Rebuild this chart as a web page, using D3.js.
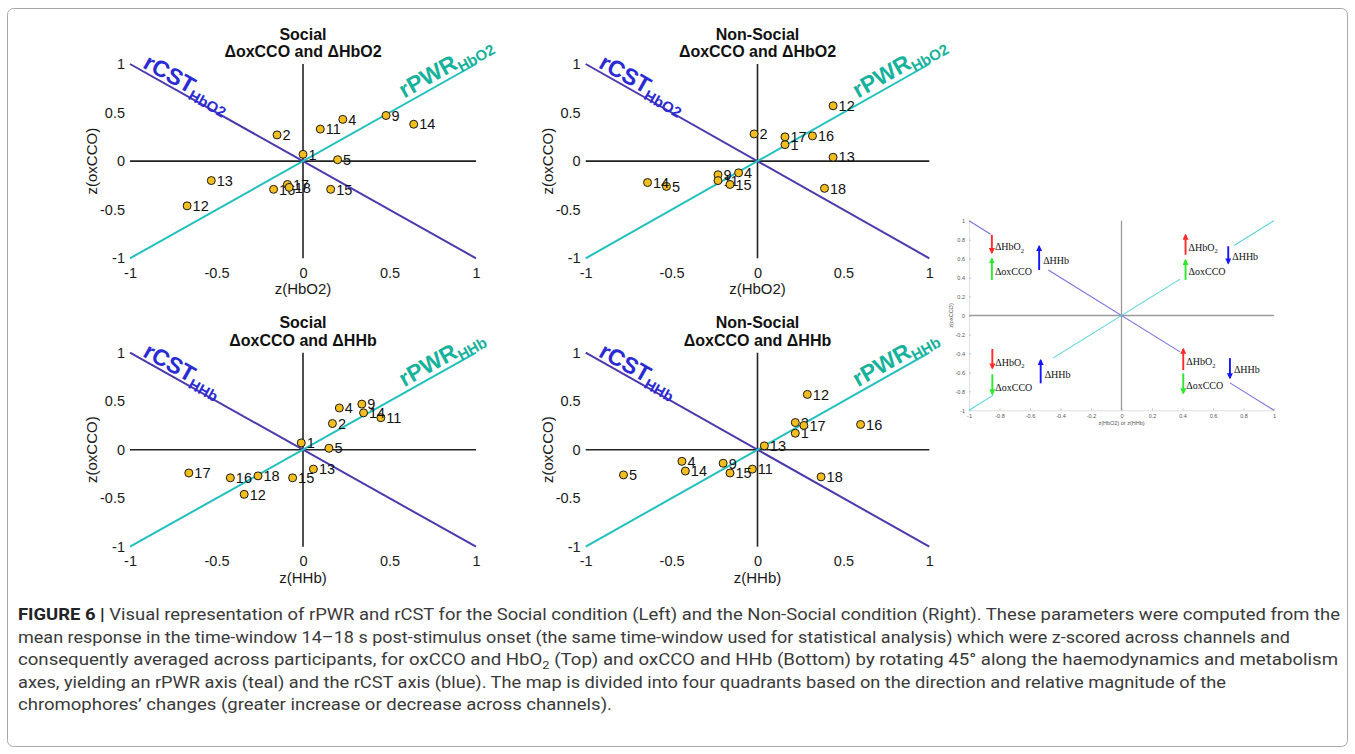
<!DOCTYPE html>
<html><head><meta charset="utf-8">
<script src="https://cdn.jsdelivr.net/npm/d3@7"></script>
<style>body{margin:0;background:#fff}</style>
</head><body>
<svg id="fig" width="1355" height="754"></svg>
<script>
// ---------------- data ----------------
const channels = [1, 2, 4, 5, 9, 11, 12, 13, 14, 15, 16, 17, 18];
const socialOxCCO    = [0.07, 0.27, 0.43, 0.015, 0.47, 0.33, -0.46, -0.20, 0.38, -0.29, -0.29, -0.24, -0.27];
const socialHbO2     = [0.00, -0.15, 0.23, 0.20, 0.48, 0.10, -0.67, -0.53, 0.64, 0.16, -0.17, -0.09, -0.08];
const socialHHb      = [-0.01, 0.17, 0.21, 0.15, 0.34, 0.45, -0.34, 0.06, 0.35, -0.06, -0.42, -0.66, -0.26];
const nonSocialOxCCO = [0.17, 0.28, -0.12, -0.26, -0.14, -0.20, 0.57, 0.04, -0.22, -0.24, 0.26, 0.25, -0.28];
const nonSocialHbO2  = [0.16, -0.02, -0.11, -0.53, -0.23, -0.23, 0.44, 0.44, -0.64, -0.16, 0.32, 0.16, 0.39];
const nonSocialHHb   = [0.22, 0.22, -0.44, -0.78, -0.20, -0.03, 0.29, 0.04, -0.42, -0.16, 0.60, 0.27, 0.37];

const axisTicks = [-1, -0.5, 0, 0.5, 1];
const axisTickLabels = ["-1", "-0.5", "0", "0.5", "1"];

const panelTitles = ["Social", "Non-Social", "Social", "Non-Social"];
const panelChromophores = ["HbO2", "HbO2", "HHb", "HHb"];
const panelXLabels = ["z(HbO2)", "z(HbO2)", "z(HHb)", "z(HHb)"];
const panelYLabel = "z(oxCCO)";

// inset (schematic map)
const insetTicks = [-1, -0.8, -0.6, -0.4, -0.2, 0, 0.2, 0.4, 0.6, 0.8, 1];
const insetTickLabels = ["-1", "-0.8", "-0.6", "-0.4", "-0.2", "0", "0.2", "0.4", "0.6", "0.8", "1"];
const insetCSTSegments = [[-1, -0.858], [-0.48, 0.384], [0.711, 1]];
const insetPWRSegments = [[-1, -0.84], [-0.447, 0.384], [0.738, 1]];
const insetArrowX    = [-0.85, -0.85, -0.54, 0.42, 0.42, 0.70, -0.847, -0.847, -0.53, 0.405, 0.405, 0.711];
const insetArrowFrom = [0.85, 0.375, 0.48, 0.64, 0.375, 0.73, -0.353, -0.62, -0.715, -0.575, -0.61, -0.45];
const insetArrowTo   = [0.66, 0.60, 0.73, 0.85, 0.585, 0.55, -0.557, -0.83, -0.47, -0.353, -0.82, -0.66];
const insetArrowKind = ["HbO", "ox", "HHb", "HbO", "ox", "HHb", "HbO", "ox", "HHb", "HbO", "ox", "HHb"];
const insetLabelY    = [0.726, 0.462, 0.578, 0.719, 0.462, 0.62, -0.494, -0.757, -0.62, -0.487, -0.74, -0.567];

const captionLines = [
  "Visual representation of rPWR and rCST for the Social condition (Left) and the Non-Social condition (Right). These parameters were computed from the",
  "mean response in the time-window 14\u201318 s post-stimulus onset (the same time-window used for statistical analysis) which were z-scored across channels and",
  "consequently averaged across participants, for oxCCO and HbO|2| (Top) and oxCCO and HHb (Bottom) by rotating 45\u00b0 along the haemodynamics and metabolism",
  "axes, yielding an rPWR axis (teal) and the rCST axis (blue). The map is divided into four quadrants based on the direction and relative magnitude of the",
  "chromophores\u2019 changes (greater increase or decrease across channels)."
];

// ---------------- drawing ----------------
const svg = d3.select("#fig");
const SANS = "'Liberation Sans', Arial, Helvetica, sans-serif";
const SERIF = "'Liberation Serif', 'Times New Roman', serif";
const CST_LINE = "#4a3aae", CST_TEXT = "#2b2bd4";
const PWR_LINE = "#21c0bd", PWR_TEXT = "#17b29c";

svg.append("rect").attr("x", 7.5).attr("y", 8.5).attr("width", 1340).attr("height", 738)
  .attr("rx", 6).attr("fill", "none").attr("stroke", "#a8a8a8").attr("stroke-width", 1);

const layouts = [
  {left: 130, right: 476, top: 64, bottom: 258.3},
  {left: 585.7, right: 929.3, top: 64, bottom: 258.3},
  {left: 130, right: 476, top: 352.7, bottom: 546.7},
  {left: 585.7, right: 929.3, top: 352.7, bottom: 546.7}
];
const panelX = [socialHbO2, nonSocialHbO2, socialHHb, nonSocialHHb];
const panelY = [socialOxCCO, nonSocialOxCCO, socialOxCCO, nonSocialOxCCO];

layouts.forEach((L, i) => {
  const g = svg.append("g");
  const x = d3.scaleLinear().domain([-1, 1]).range([L.left, L.right]);
  const y = d3.scaleLinear().domain([-1, 1]).range([L.bottom, L.top]);
  const cx = (L.left + L.right) / 2;

  // titles
  g.append("text").attr("x", cx).attr("y", L.top - 24.4).attr("text-anchor", "middle")
    .attr("font-family", SANS).attr("font-weight", "bold").attr("font-size", 16).attr("fill", "#111")
    .text(panelTitles[i]);
  g.append("text").attr("x", cx).attr("y", L.top - 6.8).attr("text-anchor", "middle")
    .attr("font-family", SANS).attr("font-weight", "bold").attr("font-size", 16).attr("fill", "#111")
    .text("\u0394oxCCO and \u0394" + panelChromophores[i]);

  // axes (tick labels only)
  const xAxis = d3.axisBottom(x).tickValues(axisTicks).tickFormat((d, k) => axisTickLabels[k]).tickSize(0).tickPadding(9);
  const yAxis = d3.axisLeft(y).tickValues(axisTicks).tickFormat((d, k) => axisTickLabels[k]).tickSize(0).tickPadding(5);
  const gx = g.append("g").attr("transform", `translate(0,${L.bottom})`).call(xAxis);
  const gy = g.append("g").attr("transform", `translate(${L.left},0)`).call(yAxis);
  [gx, gy].forEach(a => {
    a.select(".domain").remove();
    a.selectAll("text").attr("font-family", SANS).attr("font-size", 14.5).attr("fill", "#1a1a1a");
  });

  // axis labels
  g.append("text").attr("x", cx).attr("y", L.bottom + 36).attr("text-anchor", "middle")
    .attr("font-family", SANS).attr("font-size", 15).attr("fill", "#1a1a1a").text(panelXLabels[i]);
  g.append("text").attr("transform", `translate(${L.left - 33},${(L.top + L.bottom) / 2}) rotate(-90)`)
    .attr("text-anchor", "middle").attr("font-family", SANS).attr("font-size", 15).attr("fill", "#1a1a1a")
    .text(panelYLabel);

  // zero cross lines
  g.append("line").attr("x1", x(-1)).attr("x2", x(1)).attr("y1", y(0)).attr("y2", y(0))
    .attr("stroke", "#222").attr("stroke-width", 1.6);
  g.append("line").attr("x1", x(0)).attr("x2", x(0)).attr("y1", y(-1)).attr("y2", y(1))
    .attr("stroke", "#222").attr("stroke-width", 1.6);

  // diagonals
  g.append("line").attr("x1", x(-1)).attr("y1", y(1)).attr("x2", x(1)).attr("y2", y(-1))
    .attr("stroke", CST_LINE).attr("stroke-width", 2);
  g.append("line").attr("x1", x(-1)).attr("y1", y(-1)).attr("x2", x(1)).attr("y2", y(1))
    .attr("stroke", PWR_LINE).attr("stroke-width", 2);

  const ang = Math.atan((L.bottom - L.top) / (L.right - L.left)) * 180 / Math.PI;
  const sub = panelChromophores[i];
  // rCST label
  const t1 = g.append("text")
    .attr("transform", `translate(${x(-0.94)},${y(0.94)}) rotate(${ang})`)
    .attr("y", -3).attr("font-family", SANS).attr("font-weight", "bold").attr("fill", CST_TEXT);
  t1.append("tspan").attr("font-size", 23).text("rCST");
  t1.append("tspan").attr("font-size", 15).attr("dy", 5).text(sub);
  // rPWR label
  const t2 = g.append("text")
    .attr("transform", `translate(${x(0.6)},${y(0.6)}) rotate(${-ang})`)
    .attr("y", -5).attr("font-family", SANS).attr("font-weight", "bold").attr("fill", PWR_TEXT);
  t2.append("tspan").attr("font-size", 23).text("rPWR");
  t2.append("tspan").attr("font-size", 15).attr("dy", 5).text(sub);

  // points + labels
  channels.forEach((ch, k) => {
    const px = x(panelX[i][k]), py = y(panelY[i][k]);
    g.append("circle").attr("cx", px).attr("cy", py).attr("r", 4)
      .attr("fill", "#f2bd1f").attr("stroke", "#1a1a1a").attr("stroke-width", 1);
    g.append("text").attr("x", px + 5.5).attr("y", py).attr("dy", "0.36em")
      .attr("font-family", SANS).attr("font-size", 14.5).attr("fill", "#111").text(ch);
  });
});

// ---------------- inset ----------------
(function () {
  const L = {left: 969, right: 1274, top: 220.7, bottom: 410.3};
  const g = svg.append("g");
  const x = d3.scaleLinear().domain([-1, 1]).range([L.left, L.right]);
  const y = d3.scaleLinear().domain([-1, 1]).range([L.bottom, L.top]);

  const xAxis = d3.axisBottom(x).tickValues(insetTicks).tickFormat((d, k) => insetTickLabels[k]).tickSizeInner(-2).tickSizeOuter(0).tickPadding(4);
  const yAxis = d3.axisLeft(y).tickValues(insetTicks).tickFormat((d, k) => insetTickLabels[k]).tickSizeInner(-2).tickSizeOuter(0).tickPadding(4);
  const gx = g.append("g").attr("transform", `translate(0,${L.bottom})`).call(xAxis);
  const gy = g.append("g").attr("transform", `translate(${L.left},0)`).call(yAxis);
  [gx, gy].forEach(a => {
    a.select(".domain").attr("stroke", "#d8d8d8").attr("stroke-width", 0.8);
    a.selectAll(".tick line").attr("stroke", "#aaa").attr("stroke-width", 0.6);
    a.selectAll("text").attr("font-family", SANS).attr("font-size", 5.5).attr("fill", "#555");
  });
  g.append("text").attr("x", (L.left + L.right) / 2).attr("y", L.bottom + 15).attr("text-anchor", "middle")
    .attr("font-family", SANS).attr("font-size", 5.5).attr("fill", "#555").text("z(HbO2) or z(HHb)");
  g.append("text").attr("transform", `translate(${L.left - 16},${(L.top + L.bottom) / 2}) rotate(-90)`)
    .attr("text-anchor", "middle").attr("font-family", SANS).attr("font-size", 5.5).attr("fill", "#555").text("z(oxCCO)");

  g.append("line").attr("x1", x(-1)).attr("x2", x(1)).attr("y1", y(0)).attr("y2", y(0))
    .attr("stroke", "#9a9a9a").attr("stroke-width", 1.3);
  g.append("line").attr("x1", x(0)).attr("x2", x(0)).attr("y1", y(-1)).attr("y2", y(1))
    .attr("stroke", "#9a9a9a").attr("stroke-width", 1.3);

  insetCSTSegments.forEach(s => {
    g.append("line").attr("x1", x(s[0])).attr("y1", y(-s[0])).attr("x2", x(s[1])).attr("y2", y(-s[1]))
      .attr("stroke", "#7a6fdc").attr("stroke-width", 1.1);
  });
  insetPWRSegments.forEach(s => {
    g.append("line").attr("x1", x(s[0])).attr("y1", y(s[0])).attr("x2", x(s[1])).attr("y2", y(s[1]))
      .attr("stroke", "#5ad4d8").attr("stroke-width", 1.1);
  });

  const colors = {HbO: "#ff2a2a", ox: "#2ee82e", HHb: "#1414ff"};
  const defs = svg.append("defs");
  Object.keys(colors).forEach(k => {
    defs.append("marker").attr("id", "ah-" + k).attr("viewBox", "0 0 10 10").attr("refX", 8).attr("refY", 5)
      .attr("markerWidth", 3.2).attr("markerHeight", 3.2).attr("orient", "auto")
      .append("path").attr("d", "M0,0 L10,5 L0,10 z").attr("fill", colors[k]);
  });

  insetArrowX.forEach((ax, k) => {
    const kind = insetArrowKind[k];
    g.append("line").attr("x1", x(ax)).attr("x2", x(ax)).attr("y1", y(insetArrowFrom[k])).attr("y2", y(insetArrowTo[k]))
      .attr("stroke", colors[kind]).attr("stroke-width", 1.9).attr("marker-end", `url(#ah-${kind})`);
    const t = g.append("text").attr("x", x(ax) + (kind === "HHb" ? 4 : 3)).attr("y", y(insetLabelY[k])).attr("dy", "0.35em")
      .attr("font-family", SERIF).attr("font-size", 10).attr("fill", "#111");
    if (kind === "HbO") {
      t.append("tspan").text("\u0394HbO");
      t.append("tspan").attr("font-size", 6.5).attr("dy", 2.5).text("2");
    } else if (kind === "ox") {
      t.text("\u0394oxCCO");
    } else {
      t.text("\u0394HHb");
    }
  });
})();

// ---------------- caption ----------------
const capWidths = [1322, 1272, 1320, 1208, 594];
const capBase = [620, 642.5, 665, 687.5, 710];
captionLines.forEach((line, i) => {
  const t = svg.append("text").attr("x", 18).attr("y", capBase[i])
    .attr("font-family", "'Liberation Sans Narrow', 'Roboto', 'Liberation Sans', sans-serif")
    .attr("font-size", 16).attr("fill", "#3a3a3a")
    .attr("textLength", capWidths[i]).attr("lengthAdjust", "spacingAndGlyphs");
  if (i === 0) {
    t.append("tspan").attr("font-weight", "bold").attr("fill", "#222").text("FIGURE 6 | ");
  }
  const parts = line.split("|");
  parts.forEach((p, j) => {
    if (j % 2 === 1) {
      t.append("tspan").attr("font-size", 11).attr("dy", 4).text(p);
    } else {
      const s = t.append("tspan").text(p);
      if (j > 0) s.attr("dy", -4);
    }
  });
});
</script>
</body></html>
